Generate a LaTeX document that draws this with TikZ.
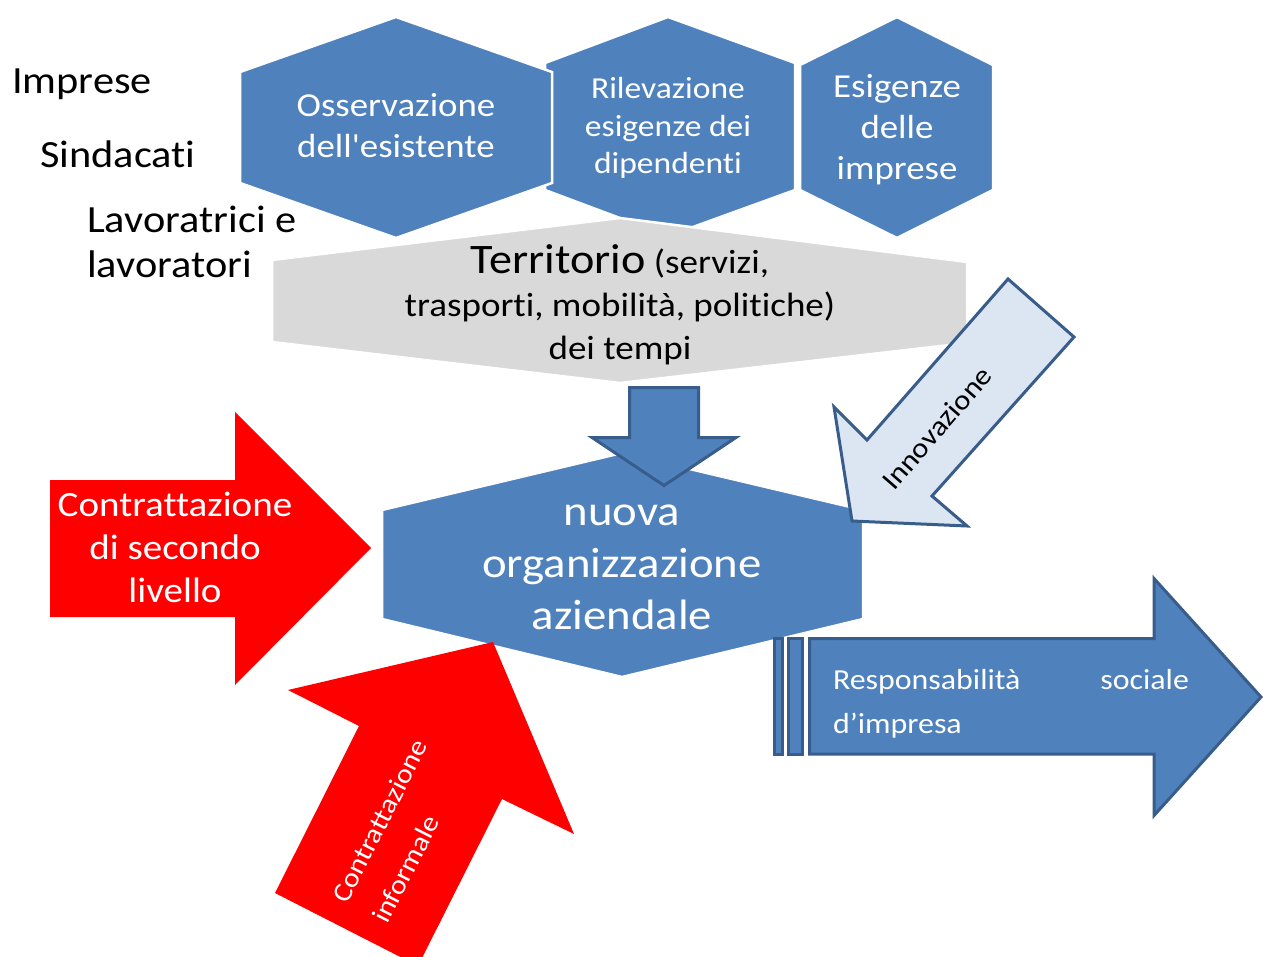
\documentclass[tikz,border=0pt]{standalone}
\usepackage{fontspec}
\setmainfont{Carlito}[FakeStretch=1.1,Ligatures={TeXOff,NoCommon}]
\newcommand{\fsz}[2]{\fontsize{#1pt}{#2pt}\selectfont}
\definecolor{hexblue}{HTML}{4F81BD}
\definecolor{edgeblue}{HTML}{385D8A}
\definecolor{paleblue}{HTML}{DCE6F2}
\definecolor{greyfill}{HTML}{D9D9D9}
\definecolor{pure red}{HTML}{FF0000}
\begin{document}
\begin{tikzpicture}[x=1pt,y=-1pt,
  hexshape/.style={fill=hexblue,draw=white,line width=2.5pt,line join=miter},
  greyhex/.style={fill=greyfill,draw=white,line width=2.5pt,line join=miter},
  bluearrow/.style={fill=hexblue,draw=edgeblue,line width=3pt,line join=miter},
  palearrow/.style={fill=paleblue,draw=edgeblue,line width=3pt,line join=miter},
  redarrow/.style={fill=pure red},
  sidelabel/.style={text=black,inner sep=0pt,anchor=west,align=left},
  inlabel/.style={text=white,inner sep=0pt,align=center}]
\useasboundingbox (0,0) rectangle (1263,957);

% actors on the left
\node[sidelabel,font=\fsz{38.5}{45}] (imprese) at (12,84) {Imprese};
\node[sidelabel,font=\fsz{38.5}{45}] (sindacati) at (40,154) {Sindacati};
\node[sidelabel,font=\fsz{38.5}{45}] (lavoratori) at (87,242) {Lavoratrici e\\lavoratori};

% the three analysis hexagons
\draw[hexshape] (545,63) -- (668,17) -- (795,63) -- (795,190) -- (668,236) -- (545,190) -- cycle;
\draw[hexshape] (240,72) -- (396,17) -- (552,72) -- (552,183) -- (396,238) -- (240,183) -- cycle;
\draw[hexshape] (800,65) -- (897,17) -- (993,65) -- (993,190) -- (897,238) -- (800,190) -- cycle;
\node[inlabel,font=\fsz{33.5}{41}] (osserv) at (396,126) {Osservazione\\dell'esistente};
\node[inlabel,font=\fsz{30.5}{37.5}] (rilev) at (668,128) {Rilevazione\\esigenze dei\\dipendenti};
\node[inlabel,font=\fsz{33.5}{41}] (esig) at (897,130) {Esigenze\\delle\\imprese};

% territory band
\draw[greyhex] (272,260) -- (620,218) -- (967,262) -- (967,343) -- (620,383) -- (272,342) -- cycle;
\node[text=black,inner sep=0pt,align=center,font=\fsz{33.7}{43}] (territorio) at (620,305)
  {{\fsz{42}{43}Territorio} (servizi,\\trasporti, mobilità, politiche)\\dei tempi};

% central hexagon
\draw[hexshape] (382,510) -- (622,453) -- (863,510) -- (863,619) -- (622,677) -- (382,619) -- cycle;
\node[inlabel,font=\fsz{42.5}{52}] (nuova) at (622,567) {nuova\\organizzazione\\aziendale};

% arrow from the territory
\draw[bluearrow] (629.5,387.5) -- (698.5,387.5) -- (698.5,437.5) -- (736,437.5) -- (664,485.5)
  -- (592,437.5) -- (629.5,437.5) -- cycle;

% innovation arrow
\draw[palearrow] (1008,279) -- (1074,337) -- (932,496) -- (967,526) -- (852,521) -- (834,407)
  -- (867,440) -- cycle;
\node[text=black,inner sep=0pt,rotate=49,font=\fsz{28}{34}] (innov) at (937,428) {Innovazione};

% second-level bargaining
\fill[redarrow] (50,480) -- (235,480) -- (235,412) -- (371,548) -- (235,685) -- (235,617)
  -- (50,617) -- cycle;
\node[inlabel,font=\fsz{35.5}{43}] (secondo) at (175,547) {Contrattazione\\di secondo\\livello};

% informal bargaining
\fill[redarrow] (359,726) -- (288,690) -- (493,642) -- (574,834) -- (502,799) -- (418,966)
  -- (275,893) -- cycle;
\node[text=white,inner sep=0pt,align=left,rotate=63,font=\fsz{27}{45}] (informale) at (400,831)
  {Contrattazione\\informale};

% corporate social responsibility arrow
\draw[bluearrow] (774.5,638.5) rectangle (782.5,754);
\draw[bluearrow] (788.5,638.5) rectangle (802.5,754);
\draw[bluearrow] (809.5,638.5) -- (1154,638.5) -- (1154,578.5) -- (1261,697) -- (1154,815.5)
  -- (1154,754) -- (809.5,754) -- cycle;
\node[text=white,inner sep=0pt,text width=356pt,align=left,font=\fsz{29}{44}] (rsi) at (1011,704)
  {Responsabilità\hfill sociale\\d’impresa};
\end{tikzpicture}
\end{document}
